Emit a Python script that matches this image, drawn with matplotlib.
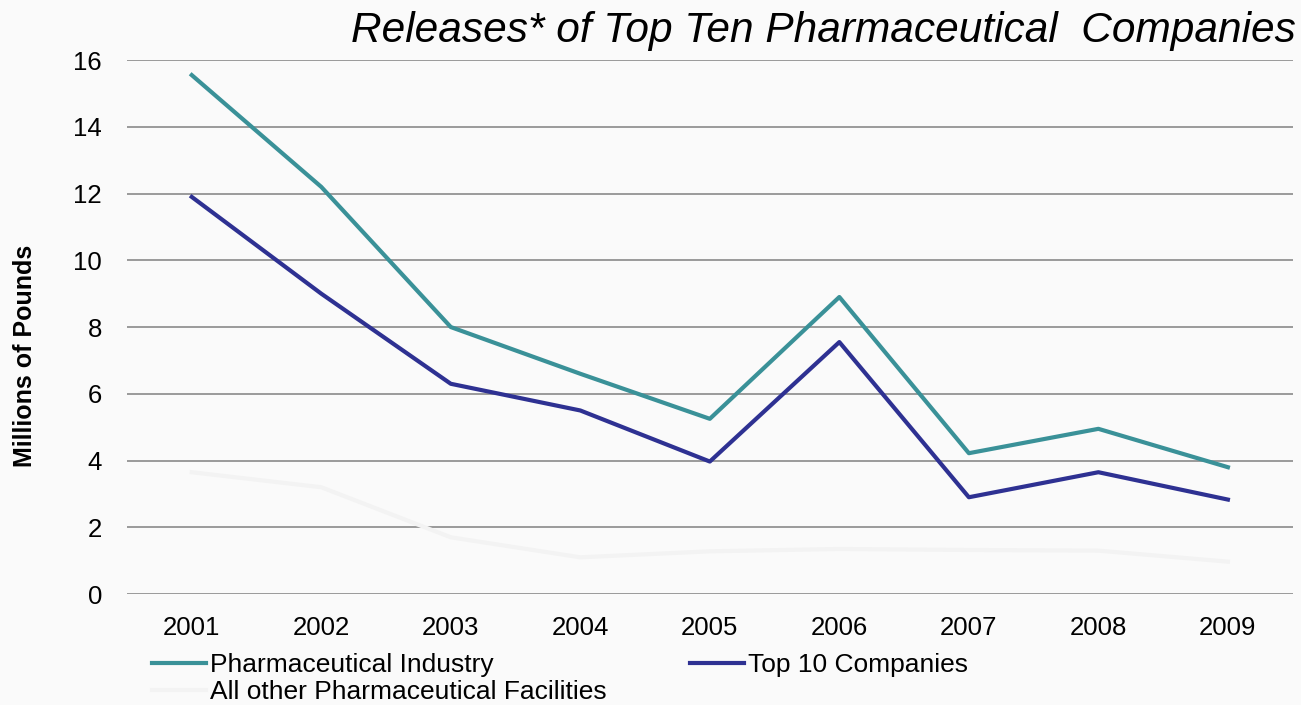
import matplotlib.pyplot as plt

plt.rcParams['font.family'] = ['Liberation Sans', 'DejaVu Sans']

years = ['2001', '2002', '2003', '2004', '2005', '2006', '2007', '2008', '2009']
industry = [15.55, 12.2, 8.0, 6.6, 5.25, 8.9, 4.22, 4.95, 3.8]
top10 = [11.9, 9.0, 6.3, 5.5, 3.97, 7.55, 2.9, 3.65, 2.83]
others = [3.65, 3.2, 1.7, 1.1, 1.28, 1.35, 1.32, 1.3, 0.97]
yticks = [0, 2, 4, 6, 8, 10, 12, 14, 16]

bg = '#fafafa'
fig = plt.figure(figsize=(13.01, 7.05), dpi=100, facecolor=bg)
ax = fig.add_axes([0.0976, 0.1574, 0.896, 0.7574], facecolor=bg)

x = range(len(years))
l1, = ax.plot(x, industry, color='#3a9198', lw=3, label='Pharmaceutical Industry', zorder=3)
l2, = ax.plot(x, top10, color='#2e3192', lw=3, label='Top 10 Companies', zorder=3)
l3, = ax.plot(x, others, color='#f3f3f3', lw=3, label='All other Pharmaceutical Facilities', zorder=2)

ax.set_xlim(-0.5, len(years) - 0.5)
ax.set_ylim(0, 16)
ax.set_xticks(list(x))
ax.set_xticklabels(years)
ax.set_yticks(yticks)
ax.yaxis.grid(True, color='#8a8a8a', lw=1.2)
ax.set_axisbelow(True)
for sp in ax.spines.values():
    sp.set_visible(False)
ax.tick_params(axis='both', length=0, labelsize=18.5)
ax.tick_params(axis='y', pad=18)
ax.tick_params(axis='x', pad=16)

fig.text(0.019, 0.495, 'Millions of Pounds', rotation=90, ha='center', va='center',
         fontsize=18, fontweight='bold')
fig.text(0.996, 0.956, 'Releases* of Top Ten Pharmaceutical  Companies', ha='right', va='center',
         fontsize=30.5, style='italic')

fig.legend([l1, l3, l2], [l1.get_label(), l3.get_label(), l2.get_label()],
           ncol=2, loc='upper left', bbox_to_anchor=(0.117, 0.074), frameon=False,
           fontsize=19, handlelength=2.05, handletextpad=0.15, columnspacing=3.15,
           labelspacing=0.12, borderpad=0, borderaxespad=0)

fig.savefig('out.png', dpi=100, facecolor=bg)
